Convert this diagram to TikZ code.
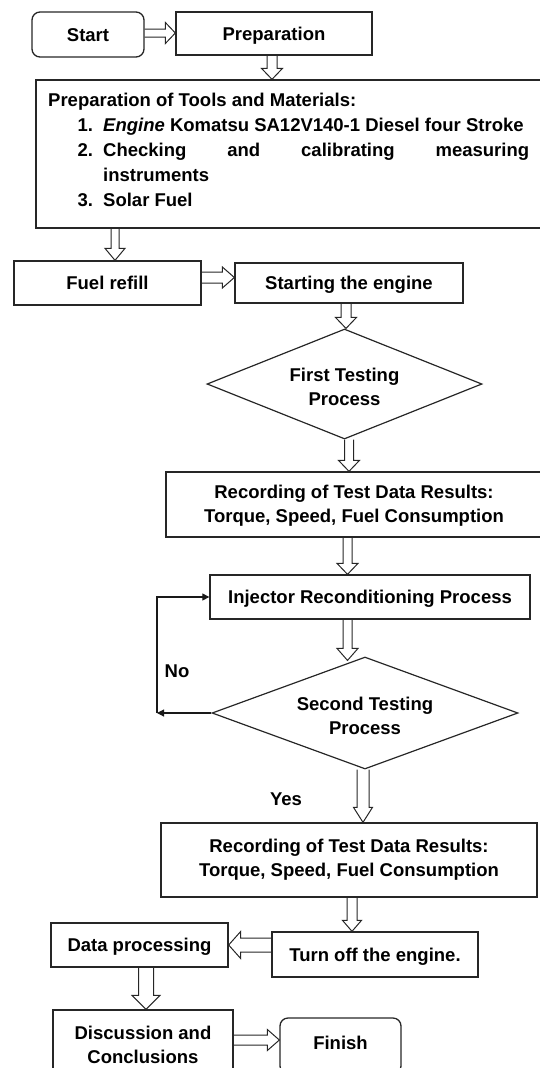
\documentclass[tikz,border=0pt]{standalone}
\usepackage{fontspec}
\setmainfont{Liberation Sans}
\usetikzlibrary{shapes.geometric,arrows.meta,calc}
% hollow block arrows: #1 position, #2 from, #3 to, #4 half shaft, #5 half head, #6 head length
\newcommand\darr[6]{\draw[hol] let \p1=(#2), \p2=(#3), \p3=(#1,0) in
 (\x3-#4,\y1) -- (\x3-#4,\y2+#6) -- (\x3-#5,\y2+#6) -- (\x3,\y2) -- (\x3+#5,\y2+#6) -- (\x3+#4,\y2+#6) -- (\x3+#4,\y1);}
\newcommand\rarr[6]{\draw[hol] let \p1=(#2), \p2=(#3), \p3=(0,#1) in
 (\x1,\y3+#4) -- (\x2-#6,\y3+#4) -- (\x2-#6,\y3+#5) -- (\x2,\y3) -- (\x2-#6,\y3-#5) -- (\x2-#6,\y3-#4) -- (\x1,\y3-#4);}
\newcommand\larr[6]{\draw[hol] let \p1=(#2), \p2=(#3), \p3=(0,#1) in
 (\x1,\y3+#4) -- (\x2+#6,\y3+#4) -- (\x2+#6,\y3+#5) -- (\x2,\y3) -- (\x2+#6,\y3-#5) -- (\x2+#6,\y3-#4) -- (\x1,\y3-#4);}
\begin{document}
\begin{tikzpicture}[x=1pt,y=-1pt,
  every node/.style={font=\fontsize{18.5}{24}\selectfont\bfseries, inner sep=0pt},
  box/.style={draw=black!85, line width=1.3pt, rectangle},
  one/.style={text height=13.3pt, text depth=0pt},
  term/.style={box, rounded corners=8pt},
  dia/.style={draw=black!85, line width=1.2pt, diamond},
  hol/.style={draw=black!85, line width=1pt, line join=miter},
  loopline/.style={draw=black!90, line width=1.1pt, -{Triangle[length=7pt,width=7pt]}},
  lbl/.style={anchor=center}]
\useasboundingbox (0,0) rectangle (540,1068);
% nodes
\node[term, one, minimum width=112pt, minimum height=45pt] (start) at (88,34.5) {Start};
\node[box, one, minimum width=196pt, minimum height=43pt] (prep) at (274,33.5) {Preparation};
\node[box, minimum width=524pt, minimum height=148pt] (tools) at (298,154) {};
\node[anchor=base west] (t0) at (48,106.6) {Preparation of Tools and Materials:};
\node[anchor=base west] (t1) at (77.5,131.6) {\makebox[25.5pt][l]{1.}\textit{Engine} Komatsu SA12V140-1 Diesel four Stroke};
\node[anchor=base west] (t2) at (77.5,156.6) {\makebox[25.5pt][l]{2.}\makebox[426pt][s]{Checking and calibrating measuring}};
\node[anchor=base west] (t3) at (103,181.6) {instruments};
\node[anchor=base west] (t4) at (77.5,206.6) {\makebox[25.5pt][l]{3.}Solar Fuel};
\node[box, one, minimum width=187pt, minimum height=44pt] (fuel) at (107.5,283) {Fuel refill};
\node[box, one, minimum width=228pt, minimum height=40pt] (eng) at (349,283) {Starting the engine};
\node[dia, minimum width=275pt, minimum height=110pt,
  label={[align=center, yshift=-3pt]center:First Testing\\Process}] (d1) at (344.5,384) {};
\node[box, minimum width=376pt, minimum height=65pt, align=center] (rec1) at (354,504.5)
  {\rule{0pt}{15pt}Recording of Test Data Results:\\Torque, Speed, Fuel Consumption};
\node[box, one, minimum width=320pt, minimum height=44pt] (inj) at (370,597) {Injector Reconditioning Process};
\node[dia, minimum width=306pt, minimum height=112pt,
  label={[align=center, yshift=-2.5pt]center:Second Testing\\Process}] (d2) at (365,713) {};
\coordinate (nocorner) at (157,713);
\node[lbl] (no) at (177,671) {No};
\node[lbl] (yes) at (286,799) {Yes};
\node[box, minimum width=376pt, minimum height=74pt, align=center] (rec2) at (349,860)
  {Recording of Test Data Results:\\Torque, Speed, Fuel Consumption};
\node[box, one, minimum width=206pt, minimum height=45pt] (off) at (375,954.5) {Turn off the engine.};
\node[box, one, minimum width=177pt, minimum height=44pt] (dp) at (139.5,945) {Data processing};
\node[box, minimum width=180pt, minimum height=69pt, align=center] (disc) at (143,1044.5)
  {Discussion and\\Conclusions};
\node[term, text height=13.3pt, text depth=6pt, minimum width=121pt, minimum height=56pt] (fin) at (340.5,1046) {Finish};
% connectors
\rarr{33}{start.east}{prep.west}{4pt}{10.5pt}{10pt}
\darr{272}{prep.south}{tools.north}{5pt}{10.5pt}{11pt}
\darr{115}{tools.south}{fuel.north}{4pt}{10pt}{12pt}
\rarr{277.5}{fuel.east}{eng.west}{5.5pt}{10.5pt}{12pt}
\darr{346}{eng.south}{d1.north}{5pt}{10.5pt}{11pt}
\darr{349}{d1.south}{rec1.north}{4.5pt}{10.5pt}{11pt}
\darr{347.5}{rec1.south}{inj.north}{4.5pt}{10.5pt}{11pt}
\darr{347.5}{inj.south}{[yshift=-4pt]d2.north}{4.5pt}{10.5pt}{12pt}
\darr{363}{d2.south}{rec2.north}{6pt}{9.5pt}{15pt}
\darr{352}{rec2.south}{off.north}{5pt}{9.5pt}{11pt}
\larr{945}{off.west}{dp.east}{7pt}{13.5pt}{12pt}
\darr{146}{dp.south}{disc.north}{7.5pt}{14pt}{14pt}
\rarr{1040}{disc.east}{fin.west}{5pt}{10.5pt}{12pt}
\draw[loopline] (d2.west) -- (nocorner);
\draw[loopline] (nocorner) |- (inj.west);
\end{tikzpicture}
\end{document}
